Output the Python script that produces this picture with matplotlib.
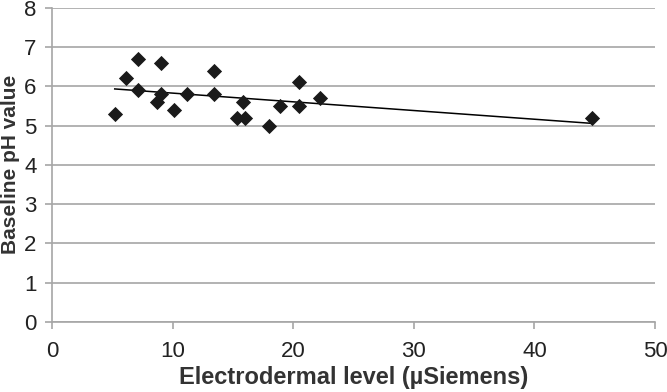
import numpy as np
import matplotlib
matplotlib.use("Agg")
import matplotlib.pyplot as plt

# electrodermal level (µS) vs baseline pH
eda = [5.2, 6.1, 7.1, 7.1, 9.0, 9.0, 8.7, 10.1, 11.2, 13.4,
       13.4, 15.8, 15.3, 16.0, 18.0, 18.9, 20.5, 20.5, 22.2, 44.8]
ph = [5.3, 6.2, 6.7, 5.9, 6.6, 5.8, 5.6, 5.4, 5.8, 6.4,
      5.8, 5.6, 5.2, 5.2, 5.0, 5.5, 6.1, 5.5, 5.7, 5.2]
x_ticks = [0, 10, 20, 30, 40, 50]
y_ticks = [0, 1, 2, 3, 4, 5, 6, 7, 8]

plt.rcParams["font.family"] = ["Liberation Sans", "DejaVu Sans"]

fig = plt.figure(figsize=(6.67, 3.92), dpi=100)
ax = fig.add_axes([0.078, 0.179, 0.904, 0.801])

x = np.array(eda)
y = np.array(ph)
slope, icpt = np.polyfit(x, y, 1)
xs = np.array([x.min(), x.max()])
ax.plot(xs, slope * xs + icpt, color="black", lw=1.1, zorder=3)
ax.scatter(x, y, marker="D", s=60, color="#1a1a1a", zorder=4, linewidths=0)

ax.set_xlim(0, 50)
ax.set_ylim(0, 8)
ax.set_xticks(x_ticks)
ax.set_yticks(y_ticks)
ax.grid(axis="y", color="#a6a6a6", lw=1.2)
ax.set_axisbelow(True)
for s in ["top", "right"]:
    ax.spines[s].set_visible(False)
for s in ["left", "bottom"]:
    ax.spines[s].set_color("#a6a6a6")
    ax.spines[s].set_linewidth(1.2)
ax.tick_params(colors="#a6a6a6", labelcolor="#222222", labelsize=16,
               length=5, width=1.2)
ax.tick_params(axis="x", pad=9)
ax.tick_params(axis="y", pad=6)
ax.set_xlabel("Electrodermal level (µSiemens)", fontsize=17, fontweight="bold",
              color="#333333", labelpad=3)
ax.set_ylabel("Baseline pH value", fontsize=15, fontweight="bold",
              color="#333333", labelpad=3)

fig.savefig("out.png", dpi=100)
